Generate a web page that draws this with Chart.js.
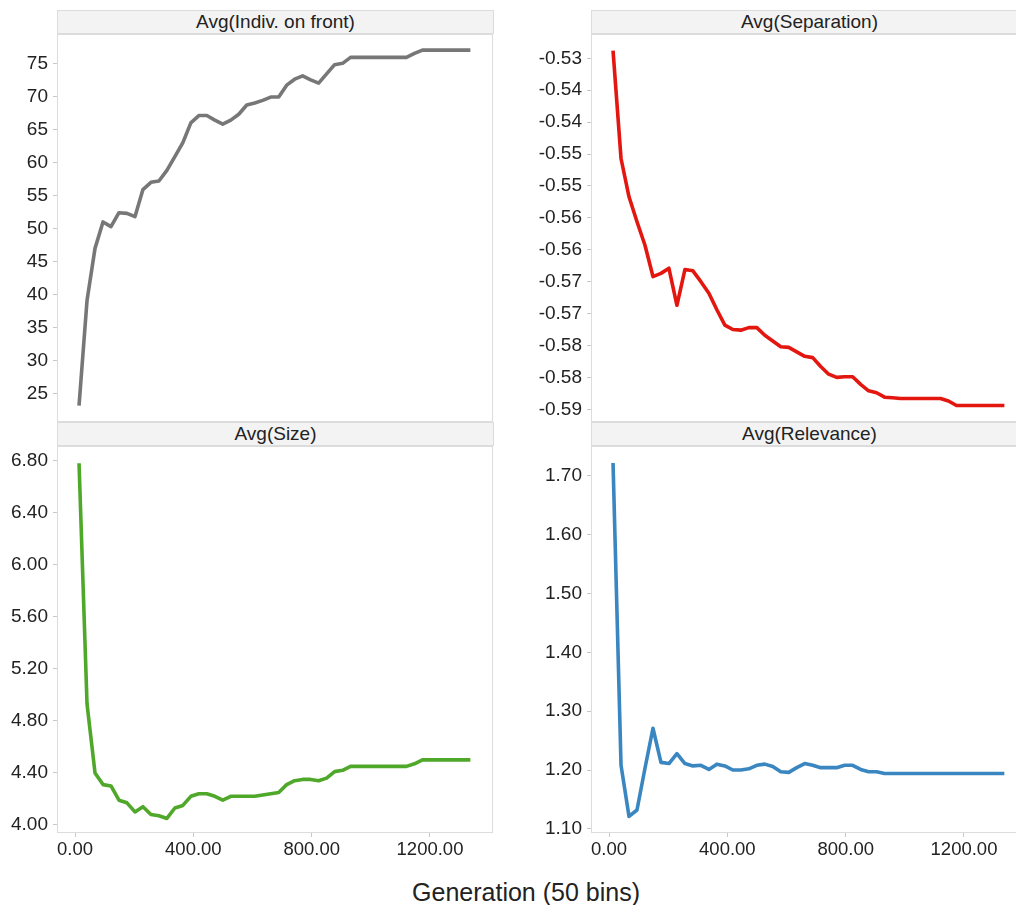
<!DOCTYPE html>
<html>
<head>
<meta charset="utf-8">
<script src="https://cdn.jsdelivr.net/npm/chart.js@4.4.1/dist/chart.umd.min.js"></script>
<style>
html,body{margin:0;padding:0;background:#fff;}
#wrap{position:relative;width:1016px;height:905px;overflow:hidden;background:#fff;font-family:"Liberation Sans",Arial,sans-serif;}
.hdr{position:absolute;box-sizing:border-box;height:24px;width:437px;background:#f3f3f3;border:1px solid #dcdcdc;text-align:center;font-size:19px;line-height:22px;color:#222;white-space:nowrap;}
canvas{position:absolute;}
#xtitle{position:absolute;left:326px;width:400px;top:877px;height:30px;line-height:30px;font-size:25px;text-align:center;color:#222;white-space:nowrap;}
</style>
</head>
<body>
<div id="wrap">
  <canvas id="c1" width="500" height="396" style="left:0px;top:30px;"></canvas>
  <canvas id="c2" width="520" height="396" style="left:520px;top:30px;"></canvas>
  <canvas id="c3" width="500" height="421" style="left:0px;top:442px;"></canvas>
  <canvas id="c4" width="520" height="421" style="left:520px;top:442px;"></canvas>
  <div class="hdr" id="h1" style="left:57px;top:10px;"></div>
  <div class="hdr" id="h2" style="left:591px;top:10px;"></div>
  <div class="hdr" id="h3" style="left:57px;top:422px;"></div>
  <div class="hdr" id="h4" style="left:591px;top:422px;"></div>
  <div id="xtitle"></div>
</div>
<script>
// ---------- data ----------
const panelTitles = ['Avg(Indiv. on front)', 'Avg(Separation)', 'Avg(Size)', 'Avg(Relevance)'];
const xAxisTitle = 'Generation (50 bins)';

const generation = [13.5, 40.5, 67.5, 94.5, 121.5, 148.5, 175.5, 202.5, 229.5, 256.5,
  283.5, 310.5, 337.5, 364.5, 391.5, 418.5, 445.5, 472.5, 499.5, 526.5,
  553.5, 580.5, 607.5, 634.5, 661.5, 688.5, 715.5, 742.5, 769.5, 796.5,
  823.5, 850.5, 877.5, 904.5, 931.5, 958.5, 985.5, 1012.5, 1039.5, 1066.5,
  1093.5, 1120.5, 1147.5, 1174.5, 1201.5, 1228.5, 1255.5, 1282.5, 1309.5, 1336.5];

const indivOnFront = [23.2, 39.1, 47.0, 51.0, 50.3, 52.4, 52.3, 51.8, 55.9, 57.0,
  57.2, 58.8, 60.9, 63.0, 66.0, 67.1, 67.1, 66.4, 65.8, 66.4,
  67.3, 68.7, 69.0, 69.4, 69.9, 69.9, 71.7, 72.6, 73.1, 72.5,
  72.0, 73.4, 74.8, 75.0, 75.9, 75.9, 75.9, 75.9, 75.9, 75.9,
  75.9, 75.9, 76.5, 77.0, 77.0, 77.0, 77.0, 77.0, 77.0, 77.0];

const separation = [-0.5288, -0.5457, -0.5517, -0.5556, -0.5593, -0.5642, -0.5637, -0.5629, -0.5687, -0.5631,
  -0.5633, -0.5650, -0.5668, -0.5694, -0.5718, -0.5725, -0.5726, -0.5722, -0.5722, -0.5734,
  -0.5743, -0.5752, -0.5753, -0.5760, -0.5767, -0.5769, -0.5783, -0.5795, -0.5800, -0.5799,
  -0.5799, -0.5811, -0.5821, -0.5824, -0.5831, -0.5832, -0.5833, -0.5833, -0.5833, -0.5833,
  -0.5833, -0.5833, -0.5837, -0.5844, -0.5844, -0.5844, -0.5844, -0.5844, -0.5844, -0.5844];

const size = [6.78, 4.93, 4.40, 4.31, 4.30, 4.19, 4.17, 4.10, 4.14, 4.08,
  4.07, 4.05, 4.13, 4.15, 4.22, 4.24, 4.24, 4.22, 4.19, 4.22,
  4.22, 4.22, 4.22, 4.23, 4.24, 4.25, 4.31, 4.34, 4.35, 4.35,
  4.34, 4.36, 4.41, 4.42, 4.45, 4.45, 4.45, 4.45, 4.45, 4.45,
  4.45, 4.45, 4.47, 4.50, 4.50, 4.50, 4.50, 4.50, 4.50, 4.50];

const relevance = [1.722, 1.208, 1.121, 1.132, 1.203, 1.271, 1.213, 1.211, 1.228, 1.211,
  1.207, 1.208, 1.201, 1.210, 1.207, 1.200, 1.200, 1.202, 1.208, 1.210,
  1.206, 1.197, 1.196, 1.204, 1.211, 1.208, 1.204, 1.204, 1.204, 1.208,
  1.208, 1.201, 1.197, 1.197, 1.194, 1.194, 1.194, 1.194, 1.194, 1.194,
  1.194, 1.194, 1.194, 1.194, 1.194, 1.194, 1.194, 1.194, 1.194, 1.194];

const xTicks = [0, 400, 800, 1200];
const xTickLabels = ['0.00', '400.00', '800.00', '1200.00'];

const frontTicks = [25, 30, 35, 40, 45, 50, 55, 60, 65, 70, 75];
const frontTickLabels = ['25', '30', '35', '40', '45', '50', '55', '60', '65', '70', '75'];

const sepTicks = [-0.585, -0.580, -0.575, -0.570, -0.565, -0.560, -0.555, -0.550, -0.545, -0.540, -0.535, -0.530];
const sepTickLabels = ['-0.59', '-0.58', '-0.58', '-0.57', '-0.57', '-0.56', '-0.56', '-0.55', '-0.55', '-0.54', '-0.54', '-0.53'];

const sizeTicks = [4.0, 4.4, 4.8, 5.2, 5.6, 6.0, 6.4, 6.8];
const sizeTickLabels = ['4.00', '4.40', '4.80', '5.20', '5.60', '6.00', '6.40', '6.80'];

const relTicks = [1.1, 1.2, 1.3, 1.4, 1.5, 1.6, 1.7];
const relTickLabels = ['1.10', '1.20', '1.30', '1.40', '1.50', '1.60', '1.70'];

// ---------- rendering ----------
const FONT = '"Liberation Sans", Arial, sans-serif';
document.getElementById('h1').textContent = panelTitles[0];
document.getElementById('h2').textContent = panelTitles[1];
document.getElementById('h3').textContent = panelTitles[2];
document.getElementById('h4').textContent = panelTitles[3];
document.getElementById('xtitle').textContent = xAxisTitle;

const framePlugin = {
  id: 'frame',
  beforeDatasetsDraw(chart) {
    const a = chart.chartArea, ctx = chart.ctx;
    ctx.save();
    ctx.strokeStyle = '#dcdcdc';
    ctx.lineWidth = 1;
    ctx.strokeRect(a.left + 0.5, a.top + 0.5, a.right - a.left - 1, a.bottom - a.top - 1);
    ctx.restore();
  }
};

function makePanel(id, values, color, o) {
  const pts = generation.map((g, i) => ({ x: g, y: values[i] }));
  return new Chart(document.getElementById(id), {
    type: 'line',
    data: { datasets: [{ data: pts, borderColor: color, borderWidth: 3.6, pointRadius: 0,
      tension: 0, fill: false, borderJoinStyle: 'round', borderCapStyle: 'butt' }] },
    options: {
      responsive: false, animation: false, devicePixelRatio: 1,
      layout: { padding: { left: 0, right: o.padRight, top: 4, bottom: o.padBottom } },
      plugins: { legend: { display: false }, tooltip: { enabled: false } },
      scales: {
        x: {
          type: 'linear', display: o.showX, min: -61, max: 1413,
          afterBuildTicks: (s) => { s.ticks = xTicks.map(v => ({ value: v })); },
          afterFit: (s) => {
            if (o.showX) { s.height = 30; } else { s.height = 0; }
            s.paddingLeft = 0; s.paddingRight = 0;
          },
          grid: { drawOnChartArea: false, drawTicks: true, tickLength: 4, color: '#c8c8c8' },
          border: { display: false },
          ticks: { autoSkip: false, maxRotation: 0, padding: 2, color: '#222',
            font: { family: FONT, size: 18.5 }, callback: (v, i) => xTickLabels[i] }
        },
        y: {
          type: 'linear', min: o.yMin, max: o.yMax,
          afterBuildTicks: (s) => { s.ticks = o.yTicks.map(v => ({ value: v })); },
          afterFit: (s) => { s.width = o.yWidth; s.paddingTop = 0; s.paddingBottom = 0; },
          grid: { drawOnChartArea: false, drawTicks: true, tickLength: 4, color: '#c8c8c8' },
          border: { display: false },
          ticks: { autoSkip: false, padding: 5, color: '#222',
            font: { family: FONT, size: 19 }, callback: (v, i) => o.yLabels[i] }
        }
      }
    },
    plugins: [framePlugin]
  });
}

makePanel('c1', indivOnFront, '#777777', { showX: false, padRight: 7, padBottom: 4,
  yMin: 20.73, yMax: 79.44, yTicks: frontTicks, yLabels: frontTickLabels, yWidth: 57 });
makePanel('c2', separation, '#e3170f', { showX: false, padRight: 13, padBottom: 4,
  yMin: -0.58699, yMax: -0.52619, yTicks: sepTicks, yLabels: sepTickLabels, yWidth: 71 });
makePanel('c3', size, '#4fa82a', { showX: true, padRight: 7, padBottom: 0,
  yMin: 3.938, yMax: 6.913, yTicks: sizeTicks, yLabels: sizeTickLabels, yWidth: 57 });
makePanel('c4', relevance, '#3a86c0', { showX: true, padRight: 13, padBottom: 0,
  yMin: 1.0929, yMax: 1.751, yTicks: relTicks, yLabels: relTickLabels, yWidth: 71 });
</script>
</body>
</html>
